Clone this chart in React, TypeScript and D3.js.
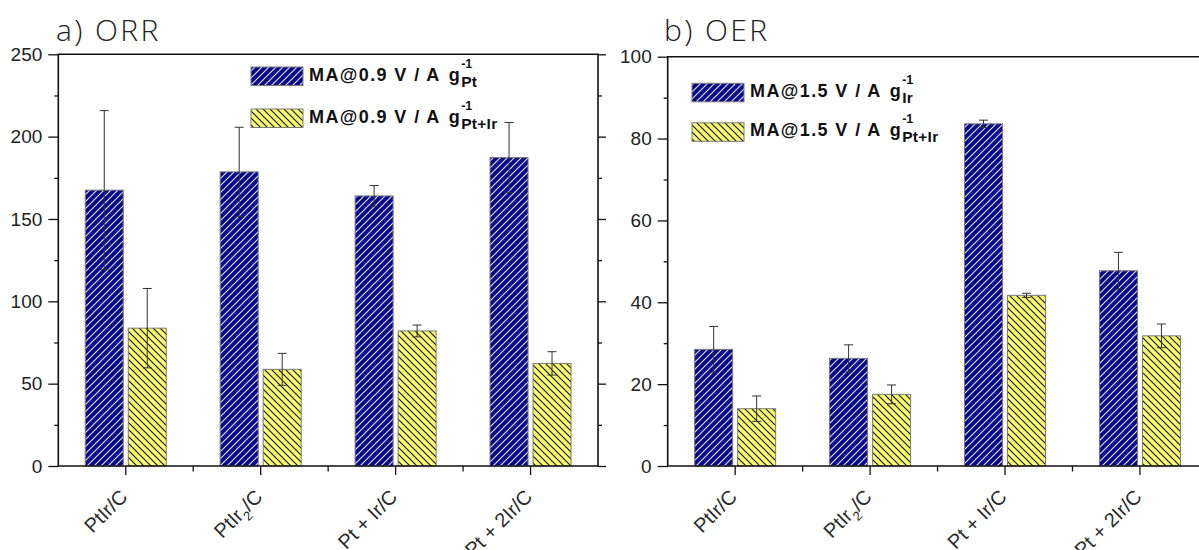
import { useEffect, useRef } from 'react'
import * as d3 from 'd3'

const W = 1199
const H = 550

const categories = ['PtIr/C', 'PtIr2/C', 'Pt + Ir/C', 'Pt + 2Ir/C']

// a) ORR, mass activity at 0.9 V
const orrPt = [167.5, 178.6, 164.0, 187.3]
const orrPtErr = [48.3, 27.1, 6.3, 21.3]
const orrPtIr = [83.7, 58.7, 82.0, 62.3]
const orrPtIrErr = [24.1, 9.7, 3.6, 7.1]

// b) OER, mass activity at 1.5 V
const oerIr = [28.5, 26.3, 83.6, 47.7]
const oerIrErr = [5.6, 3.3, 0.9, 4.5]
const oerPtIr = [14.0, 17.5, 41.7, 31.8]
const oerPtIrErr = [3.1, 2.3, 0.5, 2.9]

const orrTicks = [0, 50, 100, 150, 200, 250]
const oerTicks = [0, 20, 40, 60, 80, 100]

const TICK_FONT = '"Liberation Sans", Arial, sans-serif'

const panels = [
  {
    title: 'a) ORR',
    left: 58.3, right: 598, top: 54.3, bottom: 466,
    max: 250, ticks: orrTicks, minor: 25,
    series: [orrPt, orrPtIr], errors: [orrPtErr, orrPtIrErr],
    legend: { x: 251, y: 67, gap: 42, main: 'MA@0.9 V / A', subs: ['Pt', 'Pt+Ir'] },
    titleX: 56,
  },
  {
    title: 'b) OER',
    left: 667.7, right: 1207.4, top: 56.7, bottom: 466,
    max: 100, ticks: oerTicks, minor: 10,
    series: [oerIr, oerPtIr], errors: [oerIrErr, oerPtIrErr],
    legend: { x: 692, y: 83.3, gap: 39.5, main: 'MA@1.5 V / A', subs: ['Ir', 'Pt+Ir'] },
    titleX: 664,
  },
]

const fills = ['url(#hatchBlue)', 'url(#hatchYellow)']

export default function App() {
  const svgRef = useRef<SVGSVGElement>(null)

  useEffect(() => {
    const svg = d3.select(svgRef.current)
    svg.selectAll('*').remove()

    const defs = svg.append('defs')
    const blue = defs.append('pattern')
      .attr('id', 'hatchBlue').attr('patternUnits', 'userSpaceOnUse')
      .attr('width', 7).attr('height', 7)
    blue.append('rect').attr('width', 7).attr('height', 7).attr('fill', '#08088a')
    blue.append('path').attr('d', 'M-1,1 l2,-2 M0,7 l7,-7 M6,8 l2,-2')
      .attr('stroke', '#dfe4ff').attr('stroke-width', 1.1)

    const yel = defs.append('pattern')
      .attr('id', 'hatchYellow').attr('patternUnits', 'userSpaceOnUse')
      .attr('width', 7).attr('height', 7)
    yel.append('rect').attr('width', 7).attr('height', 7).attr('fill', '#fbfb6e')
    yel.append('path').attr('d', 'M-1,6 l2,2 M0,0 l7,7 M6,-1 l2,2')
      .attr('stroke', '#111').attr('stroke-width', 1.1)

    defs.append('clipPath').attr('id', 'page')
      .append('rect').attr('width', W).attr('height', H)

    const root = svg.append('g').attr('clip-path', 'url(#page)')

    panels.forEach((p) => {
      const g = root.append('g')

      const x = d3.scaleBand<string>().domain(categories).range([p.left, p.right]).padding(0)
      const y = d3.scaleLinear().domain([0, p.max]).range([p.bottom, p.top])
      const inner = d3.scaleBand<number>().domain([0, 1]).range([-40.5, 40.5]).paddingInner(5 / 43)

      // title
      g.append('text')
        .attr('x', p.titleX).attr('y', 40.5)
        .attr('font-family', '"Open Sans", "Noto Sans", sans-serif')
        .attr('font-weight', 300)
        .attr('font-size', 30).attr('letter-spacing', 2.4)
        .attr('fill', '#222')
        .text(p.title)

      // bars
      p.series.forEach((vals, si) => {
        g.append('g').selectAll('rect')
          .data(vals)
          .join('rect')
          .attr('x', (_, i) => x(categories[i])! + x.bandwidth() / 2 + inner(si)!)
          .attr('y', (d) => y(d))
          .attr('width', inner.bandwidth())
          .attr('height', (d) => y(0) - y(d))
          .attr('fill', fills[si])
          .attr('stroke', '#7a7a7a')
          .attr('stroke-width', 1)
      })

      // error bars
      p.series.forEach((vals, si) => {
        const eg = g.append('g').attr('stroke', '#333').attr('stroke-width', 1)
        vals.forEach((v, i) => {
          const cx = x(categories[i])! + x.bandwidth() / 2 + inner(si)! + inner.bandwidth() / 2
          const e = p.errors[si][i]
          eg.append('line').attr('x1', cx).attr('x2', cx).attr('y1', y(v + e)).attr('y2', y(v - e))
          eg.append('line').attr('x1', cx - 4.5).attr('x2', cx + 4.5).attr('y1', y(v + e)).attr('y2', y(v + e))
          eg.append('line').attr('x1', cx - 4.5).attr('x2', cx + 4.5).attr('y1', y(v - e)).attr('y2', y(v - e))
        })
      })

      // frame
      g.append('path')
        .attr('d', `M${p.left},${p.bottom}V${p.top}H${p.right}V${p.bottom}Z`)
        .attr('fill', 'none').attr('stroke', '#111').attr('stroke-width', 1.6)

      // y axis left with minor ticks
      const minorVals = d3.range(0, p.max + 0.001, p.minor).filter((v) => !p.ticks.includes(v))
      g.append('g')
        .attr('transform', `translate(${p.left},0)`)
        .call(d3.axisLeft(y).tickValues(minorVals).tickSize(4).tickFormat(() => ''))
        .call((a) => a.select('.domain').remove())
        .call((a) => a.selectAll('line').attr('stroke', '#111').attr('stroke-width', 1.3))
      g.append('g')
        .attr('transform', `translate(${p.left},0)`)
        .call(d3.axisLeft(y).tickValues(p.ticks).tickSize(10).tickPadding(6).tickFormat(d3.format('d')))
        .call((a) => a.select('.domain').remove())
        .call((a) => a.selectAll('line').attr('stroke', '#111').attr('stroke-width', 1.3))
        .call((a) => a.selectAll('text')
          .attr('font-family', TICK_FONT).attr('font-size', 19).attr('fill', '#222'))

      // mirrored right axis ticks
      g.append('g')
        .attr('transform', `translate(${p.right},0)`)
        .call(d3.axisRight(y).tickValues(minorVals).tickSize(4).tickFormat(() => ''))
        .call((a) => a.select('.domain').remove())
        .call((a) => a.selectAll('line').attr('stroke', '#111').attr('stroke-width', 1.3))
      g.append('g')
        .attr('transform', `translate(${p.right},0)`)
        .call(d3.axisRight(y).tickValues(p.ticks).tickSize(8).tickFormat(() => ''))
        .call((a) => a.select('.domain').remove())
        .call((a) => a.selectAll('line').attr('stroke', '#111').attr('stroke-width', 1.3))

      // x axis: major ticks at categories, minor at band edges
      const xb = g.append('g').attr('stroke', '#111').attr('stroke-width', 1.3)
      categories.forEach((c) => {
        const cx = x(c)! + x.bandwidth() / 2
        xb.append('line').attr('x1', cx).attr('x2', cx).attr('y1', p.bottom).attr('y2', p.bottom + 9)
      })
      categories.slice(1).forEach((c) => {
        const bx = x(c)!
        xb.append('line').attr('x1', bx).attr('x2', bx).attr('y1', p.bottom).attr('y2', p.bottom + 5.5)
      })

      // x labels rotated
      categories.forEach((c) => {
        const cx = x(c)! + x.bandwidth() / 2
        const t = g.append('text')
          .attr('transform', `translate(${cx - 2},493) rotate(-45)`)
          .attr('text-anchor', 'end')
          .attr('dy', '0.35em')
          .attr('font-family', TICK_FONT).attr('font-size', 20).attr('fill', '#2a2a2a')
        if (c === 'PtIr2/C') {
          t.append('tspan').text('PtIr')
          t.append('tspan').attr('font-size', 13).attr('fill', '#2a2a2a').attr('dy', 6).text('2')
          t.append('tspan').attr('dy', -6).text('/C')
        } else {
          t.text(c)
        }
      })

      // legend
      const lg = g.append('g')
      p.legend.subs.forEach((sub, si) => {
        const ly = p.legend.y + si * p.legend.gap
        lg.append('rect')
          .attr('x', p.legend.x).attr('y', ly)
          .attr('width', 52).attr('height', 18.5)
          .attr('fill', fills[si]).attr('stroke', '#7a7a7a').attr('stroke-width', 1)
        const base = ly + 13.5
        const txt = lg.append('text')
          .attr('x', p.legend.x + 58).attr('y', base)
          .attr('font-family', TICK_FONT).attr('font-weight', 'bold')
          .attr('font-size', 18).attr('letter-spacing', 1.4).attr('fill', '#111')
        txt.append('tspan').text(p.legend.main)
        txt.append('tspan').attr('dx', 8).text('g')
        const bb = (txt.node() as SVGTextElement).getBBox()
        const sx = bb.x + bb.width
        lg.append('text')
          .attr('x', sx).attr('y', base - 13)
          .attr('font-family', TICK_FONT).attr('font-weight', 'bold')
          .attr('font-size', 12.5).attr('fill', '#111')
          .text('-1')
        lg.append('text')
          .attr('x', sx).attr('y', base + 6)
          .attr('font-family', TICK_FONT).attr('font-weight', 'bold')
          .attr('font-size', 15.5).attr('letter-spacing', 0.3).attr('fill', '#111')
          .text(sub)
      })
    })
  }, [])

  return (
    <svg
      ref={svgRef}
      width={W}
      height={H}
      style={{ position: 'absolute', left: 0, top: 0, background: '#fff' }}
    />
  )
}
